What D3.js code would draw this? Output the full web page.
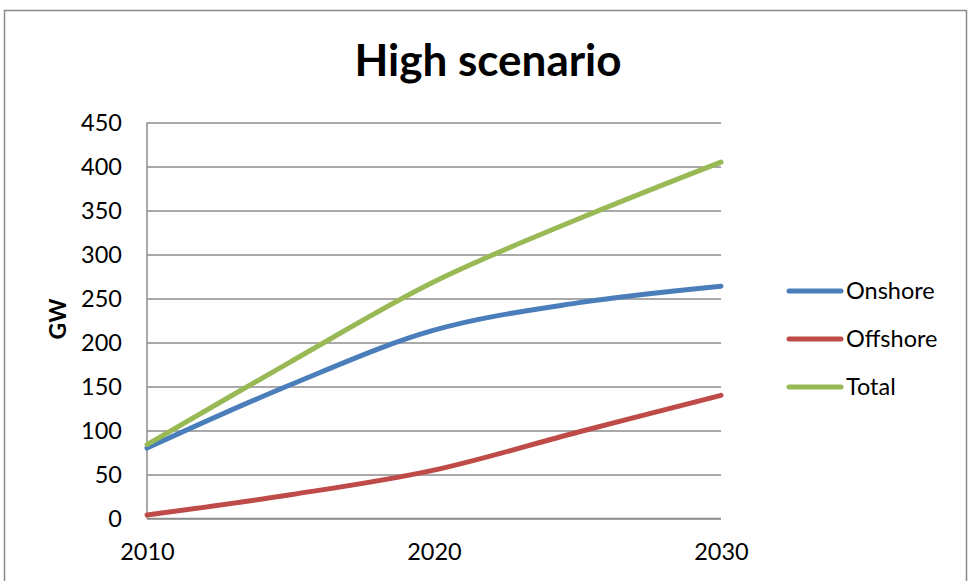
<!DOCTYPE html>
<html>
<head>
<meta charset="utf-8">
<script src="https://cdn.jsdelivr.net/npm/d3@7"></script>
<style>
  html, body { margin: 0; padding: 0; background: #fff; }
  svg { display: block; }
  text { font-family: Lato, "Open Sans", sans-serif; fill: #000; }
</style>
</head>
<body>
<svg id="chart" width="969" height="581"></svg>
<script>
// Wind capacity, high scenario (GW)
const years    = [2010, 2015, 2020, 2025, 2030];
const onshore  = [80, 152, 214, 245, 264];
const offshore = [4, 27, 55, 98, 140];
const total    = [84, 178, 269, 340, 405];
const yTicks   = [0, 50, 100, 150, 200, 250, 300, 350, 400, 450];
const xTicks   = [2010, 2020, 2030];
const seriesNames  = ["Onshore", "Offshore", "Total"];
const seriesColors = ["#4A7EBB", "#BE4B48", "#98B954"];

const series = [onshore, offshore, total].map((vals, i) => ({
  name: seriesNames[i],
  color: seriesColors[i],
  points: years.map((y, j) => ({ year: y, value: vals[j] }))
}));

const svg = d3.select("#chart");
const plot = { left: 147, right: 721, top: 122.5, bottom: 518.5 };
const labelSize = 23.5;

const x = d3.scaleLinear().domain([2010, 2030]).range([plot.left, plot.right]);
const y = d3.scaleLinear().domain([0, 450]).range([plot.bottom, plot.top]);

// chart frame
svg.append("rect")
  .attr("x", 4.5).attr("y", 10.5)
  .attr("width", 962).attr("height", 600)
  .attr("fill", "none").attr("stroke", "#8a8a8a").attr("stroke-width", 1.5);

// title
svg.append("text")
  .attr("x", 488).attr("y", 76)
  .attr("text-anchor", "middle")
  .attr("font-weight", "bold")
  .attr("font-size", 44)
  .text("High scenario");

// horizontal gridlines + y tick labels
const yAxis = d3.axisLeft(y).tickValues(yTicks).tickSize(-(plot.right - plot.left)).tickPadding(25);
const gy = svg.append("g").attr("transform", `translate(${plot.left},0)`).call(yAxis);
gy.select(".domain").remove();
gy.selectAll(".tick line").attr("stroke", "#8c8c8c").attr("stroke-width", 1.5);
gy.selectAll(".tick text").attr("font-size", labelSize).attr("font-family", "Lato, sans-serif").attr("fill", "#000");

// x axis labels
const xAxis = d3.axisBottom(x).tickValues(xTicks).tickFormat(d3.format("d")).tickSize(0).tickPadding(25);
const gx = svg.append("g").attr("transform", `translate(0,${plot.bottom})`).call(xAxis);
gx.select(".domain").remove();
gx.selectAll(".tick text").attr("font-size", labelSize).attr("font-family", "Lato, sans-serif").attr("fill", "#000");

// axis lines
svg.append("line")
  .attr("x1", plot.left).attr("x2", plot.left)
  .attr("y1", plot.top).attr("y2", plot.bottom)
  .attr("stroke", "#8c8c8c").attr("stroke-width", 1.5);
svg.append("line")
  .attr("x1", plot.left).attr("x2", plot.right)
  .attr("y1", plot.bottom).attr("y2", plot.bottom)
  .attr("stroke", "#8c8c8c").attr("stroke-width", 1.5);

// y axis title
svg.append("text")
  .attr("transform", "translate(66,319) rotate(-90)")
  .attr("text-anchor", "middle")
  .attr("font-weight", "bold")
  .attr("font-size", 23)
  .text("GW");

// series lines
const line = d3.line()
  .x(d => x(d.year))
  .y(d => y(d.value))
  .curve(d3.curveCatmullRom.alpha(0.5));

svg.append("g").selectAll("path")
  .data(series)
  .join("path")
  .attr("d", d => line(d.points))
  .attr("fill", "none")
  .attr("stroke", d => d.color)
  .attr("stroke-width", 5)
  .attr("stroke-linecap", "round")
  .attr("stroke-linejoin", "round");

// legend
const legend = svg.append("g");
const legendY = [291, 339, 387];
series.forEach((s, i) => {
  legend.append("line")
    .attr("x1", 789).attr("x2", 841)
    .attr("y1", legendY[i]).attr("y2", legendY[i])
    .attr("stroke", s.color).attr("stroke-width", 5)
    .attr("stroke-linecap", "round");
  legend.append("text")
    .attr("x", 846).attr("y", legendY[i])
    .attr("dy", "0.35em")
    .attr("font-size", labelSize)
    .text(s.name);
});
</script>
</body>
</html>
